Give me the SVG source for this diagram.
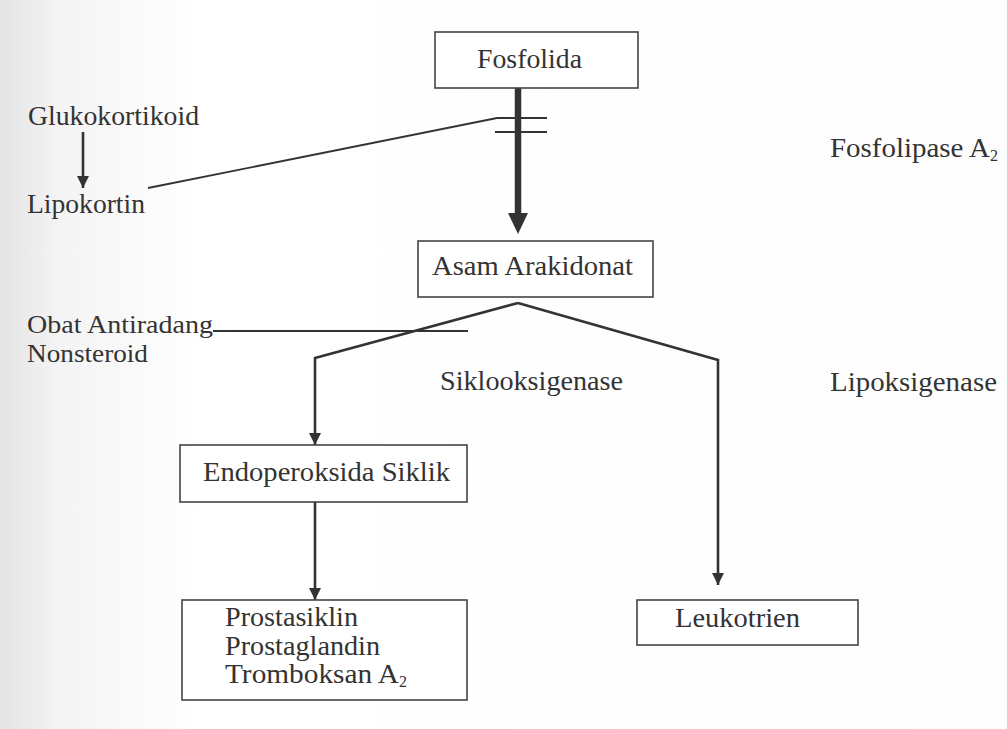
<svg xmlns="http://www.w3.org/2000/svg" width="1007" height="729" viewBox="0 0 1007 729">
<style>
text{font-family:"Liberation Serif","Times New Roman",serif;font-size:27px;fill:#333;}
.sm{font-size:25px;}
.box{fill:#fff;stroke:#444;stroke-width:1.6;}
.ln{fill:none;stroke:#333;stroke-width:2.6;stroke-linejoin:miter;}
.thin{fill:none;stroke:#333;stroke-width:1.8;}
.sub{font-size:16px;}
</style>
<defs>
<linearGradient id="bg" x1="0" y1="0" x2="1" y2="0">
<stop offset="0" stop-color="#e4e4e4"/>
<stop offset="0.06" stop-color="#f4f4f4"/>
<stop offset="0.2" stop-color="#ffffff"/>
<stop offset="1" stop-color="#fdfdfd"/>
</linearGradient>
<marker id="ah" viewBox="0 0 10 10" refX="10" refY="5" markerWidth="12" markerHeight="12" markerUnits="userSpaceOnUse" orient="auto">
<path d="M0,0 L10,5 L0,10 z" fill="#333"/>
</marker>
</defs>
<rect width="1007" height="729" fill="url(#bg)"/>

<g id="connectors">
<path class="ln" d="M83,132 L83,188" marker-end="url(#ah)"/>
<path class="thin" d="M148,188 L497,118 L547,118"/>
<path class="thin" d="M495,132 L547,132"/>
<path fill="none" stroke="#333" stroke-width="6.5" d="M518,88 L518,214"/>
<path fill="#333" d="M508,213 L528,213 L518,234 z"/>
<path class="thin" d="M213,331 L468,331"/>
<path class="ln" d="M518,303 L315,358 L315,445" marker-end="url(#ah)"/>
<path class="ln" d="M518,303 L718,360 L718,585" marker-end="url(#ah)"/>
<path class="ln" d="M315,502 L315,600" marker-end="url(#ah)"/>
</g>

<g id="fosfolida">
<rect class="box" x="435" y="32" width="203" height="56"/>
<text x="477" y="68" textLength="105" lengthAdjust="spacingAndGlyphs">Fosfolida</text>
</g>
<g id="asam-arakidonat">
<rect class="box" x="418" y="241" width="235" height="56"/>
<text x="432" y="275" textLength="201" lengthAdjust="spacingAndGlyphs">Asam Arakidonat</text>
</g>
<g id="endoperoksida">
<rect class="box" x="180" y="445" width="287" height="57"/>
<text x="203" y="481" textLength="247" lengthAdjust="spacingAndGlyphs">Endoperoksida Siklik</text>
</g>
<g id="prostanoid">
<rect class="box" x="182" y="600" width="285" height="100"/>
<text x="225" y="626" textLength="133" lengthAdjust="spacingAndGlyphs">Prostasiklin</text>
<text x="225" y="655" textLength="155" lengthAdjust="spacingAndGlyphs">Prostaglandin</text>
<text x="225" y="683"><tspan textLength="174" lengthAdjust="spacingAndGlyphs">Tromboksan A</tspan><tspan class="sub" dy="4">2</tspan></text>
</g>
<g id="leukotrien">
<rect class="box" x="637" y="600" width="221" height="45"/>
<text x="675" y="627" textLength="125" lengthAdjust="spacingAndGlyphs">Leukotrien</text>
</g>
<g id="glukokortikoid">
<text x="28" y="125" textLength="171" lengthAdjust="spacingAndGlyphs">Glukokortikoid</text>
</g>
<g id="lipokortin">
<text x="27" y="213" textLength="118" lengthAdjust="spacingAndGlyphs">Lipokortin</text>
</g>
<g id="oains">
<text class="sm" x="27" y="333" textLength="186" lengthAdjust="spacingAndGlyphs">Obat Antiradang</text>
<text class="sm" x="27" y="362" textLength="121" lengthAdjust="spacingAndGlyphs">Nonsteroid</text>
</g>
<g id="siklooksigenase">
<text x="440" y="390" textLength="183" lengthAdjust="spacingAndGlyphs">Siklooksigenase</text>
</g>
<g id="lipoksigenase">
<text x="830" y="391" textLength="167" lengthAdjust="spacingAndGlyphs">Lipoksigenase</text>
</g>
<g id="fosfolipase">
<text x="830" y="157"><tspan textLength="160" lengthAdjust="spacingAndGlyphs">Fosfolipase A</tspan><tspan class="sub" dy="4">2</tspan></text>
</g>
</svg>
